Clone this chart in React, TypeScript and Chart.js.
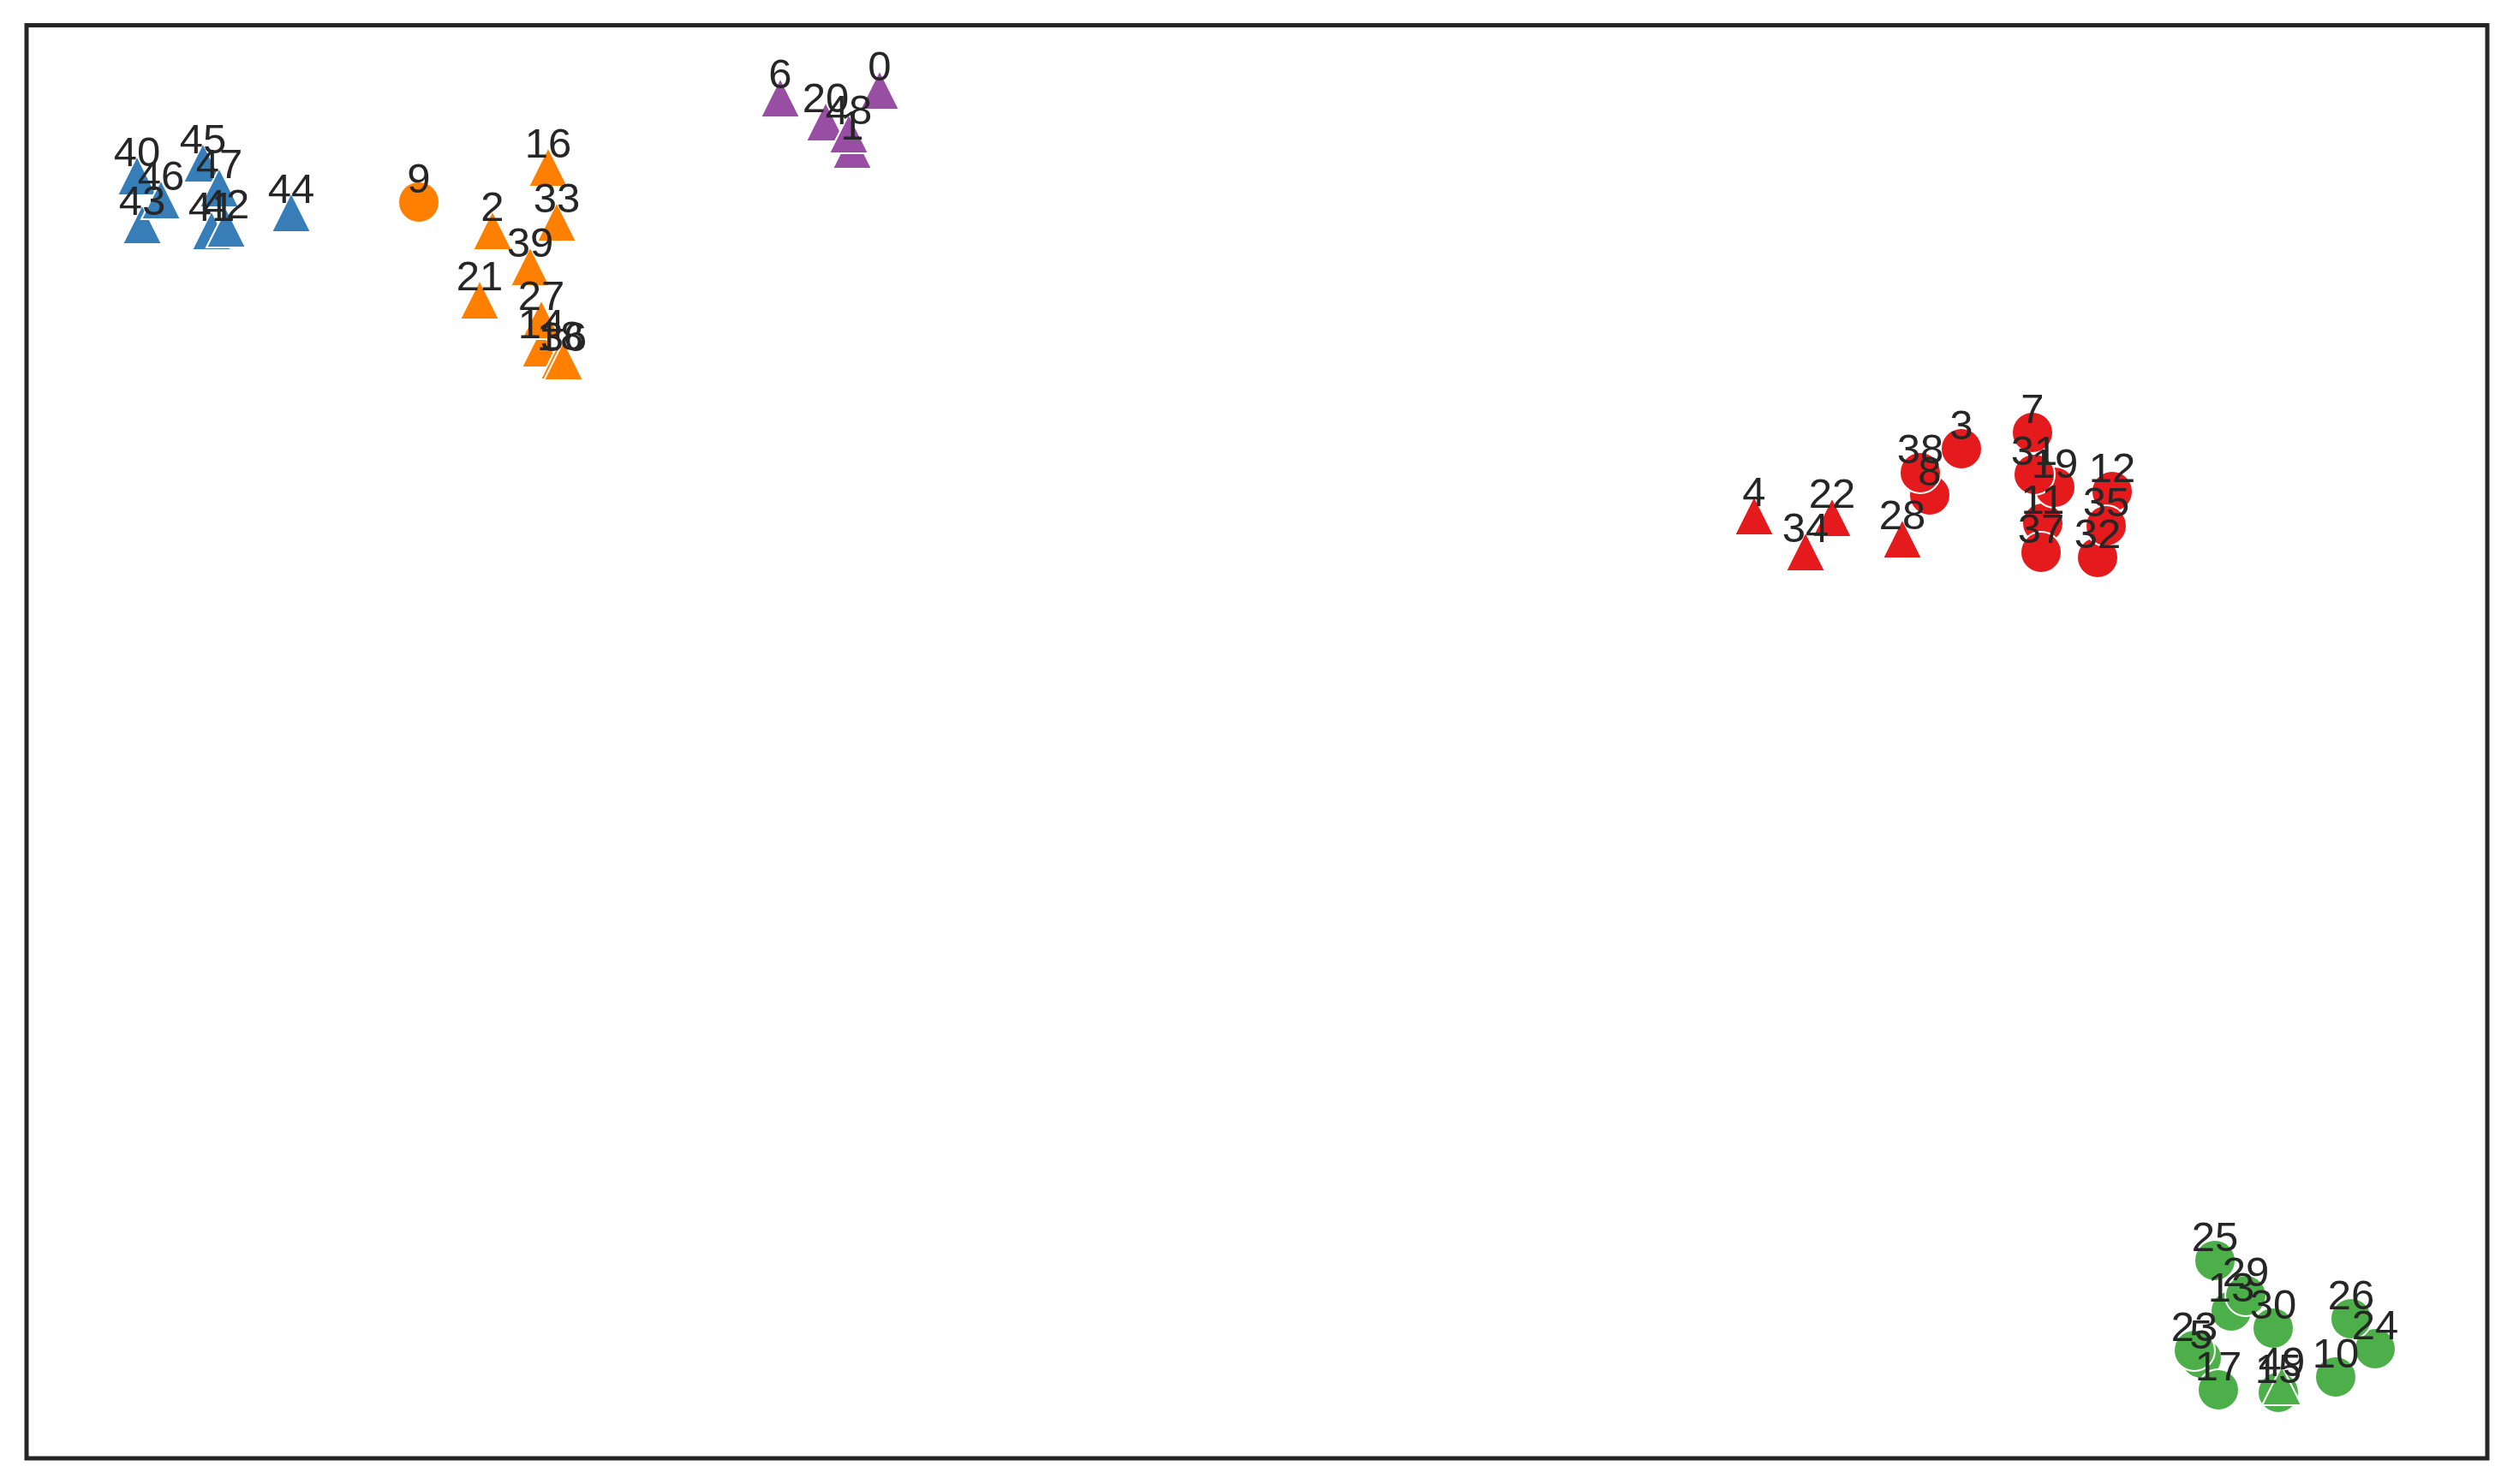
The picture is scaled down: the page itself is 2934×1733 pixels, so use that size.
import React, { useEffect, useRef } from "react";
import { Chart, registerables } from "chart.js";

Chart.register(...registerables);

// Point ids (labels), coordinates in plot units, cluster and marker shape
const ids: number[] = [
  0, 1, 2, 3, 4, 5, 6, 7, 8, 9,
  10, 11, 12, 13, 14, 15, 16, 17, 18, 19,
  20, 21, 22, 23, 24, 25, 26, 27, 28, 29,
  30, 31, 32, 33, 34, 35, 36, 37, 38, 39,
  40, 41, 42, 43, 44, 45, 46, 47, 48, 49,
];

const xValues: number[] = [
  996, 964, 544, 2259, 2017, 2539, 880, 2342, 2222, 458,
  2696, 2354, 2435, 2574, 601, 2629, 609, 2559, 623, 2368,
  933, 529, 2108, 2531, 2742, 2555, 2714, 601, 2190, 2591,
  2623, 2344, 2418, 619, 2077, 2428, 627, 2352, 2211, 588,
  129, 216, 233, 135, 309, 206, 157, 225, 960, 2633,
];

const yValues: number[] = [
  1598, 1529, 1434, 1179, 1101, 117, 1589, 1198, 1125, 1467,
  95, 1092, 1129, 172, 1297, 77, 1508, 80, 1283, 1134,
  1561, 1353, 1099, 126, 128, 231, 163, 1330, 1074, 190,
  152, 1149, 1052, 1444, 1059, 1089, 1282, 1058, 1151, 1392,
  1498, 1434, 1437, 1441, 1455, 1513, 1470, 1484, 1547, 85,
];

// cluster: 0 blue, 1 orange, 2 purple, 3 red, 4 green
const clusters: number[] = [
  2, 2, 1, 3, 3, 4, 2, 3, 3, 1,
  4, 3, 3, 4, 1, 4, 1, 4, 1, 3,
  2, 1, 3, 4, 4, 4, 4, 1, 3, 4,
  4, 3, 3, 1, 3, 3, 1, 3, 3, 1,
  0, 0, 0, 0, 0, 0, 0, 0, 2, 4,
];

// shape: "t" triangle, "c" circle
const shapes: string[] = [
  "t", "t", "t", "c", "t", "c", "t", "c", "c", "c",
  "c", "c", "c", "c", "t", "c", "t", "c", "t", "c",
  "t", "t", "t", "c", "c", "c", "c", "t", "t", "c",
  "c", "c", "c", "t", "t", "c", "t", "c", "c", "t",
  "t", "t", "t", "t", "t", "t", "t", "t", "t", "t",
];

const clusterColors: string[] = ["#377eb8", "#ff7f00", "#984ea3", "#e41a1c", "#4daf4a"];

const X_MAX = 2873;
const Y_MAX = 1673.5;

function makeTriangle(color: string): HTMLCanvasElement {
  const c = document.createElement("canvas");
  c.width = 60;
  c.height = 60;
  const ctx = c.getContext("2d")!;
  const cx = 30;
  const cy = 30;
  const h = 23;
  ctx.beginPath();
  ctx.moveTo(cx, cy - h);
  ctx.lineTo(cx - h, cy + h);
  ctx.lineTo(cx + h, cy + h);
  ctx.closePath();
  ctx.fillStyle = color;
  ctx.fill();
  ctx.lineWidth = 2;
  ctx.lineJoin = "miter";
  ctx.strokeStyle = "#ffffff";
  ctx.stroke();
  return c;
}

export default function App() {
  const canvasRef = useRef<HTMLCanvasElement | null>(null);

  useEffect(() => {
    if (!canvasRef.current) return;
    const triangles = clusterColors.map((c) => makeTriangle(c));
    const points = ids.map((_, i) => ({ x: xValues[i], y: yValues[i] }));

    const labelPlugin = {
      id: "pointLabels",
      afterDatasetsDraw(chart: any) {
        const ctx = chart.ctx;
        const meta = chart.getDatasetMeta(0);
        ctx.save();
        ctx.font = '49px "Liberation Sans", Arial, sans-serif';
        ctx.fillStyle = "#262626";
        ctx.textAlign = "center";
        ctx.textBaseline = "alphabetic";
        meta.data.forEach((el: any, i: number) => {
          ctx.fillText(String(ids[i]), el.x, el.y - 11);
        });
        ctx.restore();
      },
      afterDraw(chart: any) {
        const { ctx, chartArea } = chart;
        ctx.save();
        ctx.strokeStyle = "#262626";
        ctx.lineWidth = 5;
        ctx.strokeRect(
          chartArea.left,
          chartArea.top,
          chartArea.right - chartArea.left,
          chartArea.bottom - chartArea.top
        );
        ctx.restore();
      },
    };

    const chart = new Chart(canvasRef.current, {
      type: "scatter",
      data: {
        datasets: [
          {
            data: points,
            backgroundColor: clusters.map((c) => clusterColors[c]),
            borderColor: "#ffffff",
            borderWidth: 2,
            pointRadius: 24,
            pointHoverRadius: 24,
            pointStyle: (ctx: any) => {
              const i = ctx.dataIndex;
              if (i === undefined) return "circle";
              return shapes[i] === "t" ? triangles[clusters[i]] : "circle";
            },
            clip: false as any,
          } as any,
        ],
      },
      options: {
        animation: false,
        responsive: false,
        events: [],
        layout: { padding: { left: 31, top: 29.5, right: 30, bottom: 30 } },
        scales: {
          x: { type: "linear", min: 0, max: X_MAX, display: false },
          y: { type: "linear", min: 0, max: Y_MAX, display: false },
        },
        plugins: {
          legend: { display: false },
          tooltip: { enabled: false },
        },
      },
      plugins: [labelPlugin],
    });

    return () => chart.destroy();
  }, []);

  return (
    <div style={{ position: "absolute", left: 0, top: 0, width: 2934, height: 1733, background: "#ffffff" }}>
      <canvas ref={canvasRef} width={2934} height={1733} style={{ display: "block" }} />
    </div>
  );
}
